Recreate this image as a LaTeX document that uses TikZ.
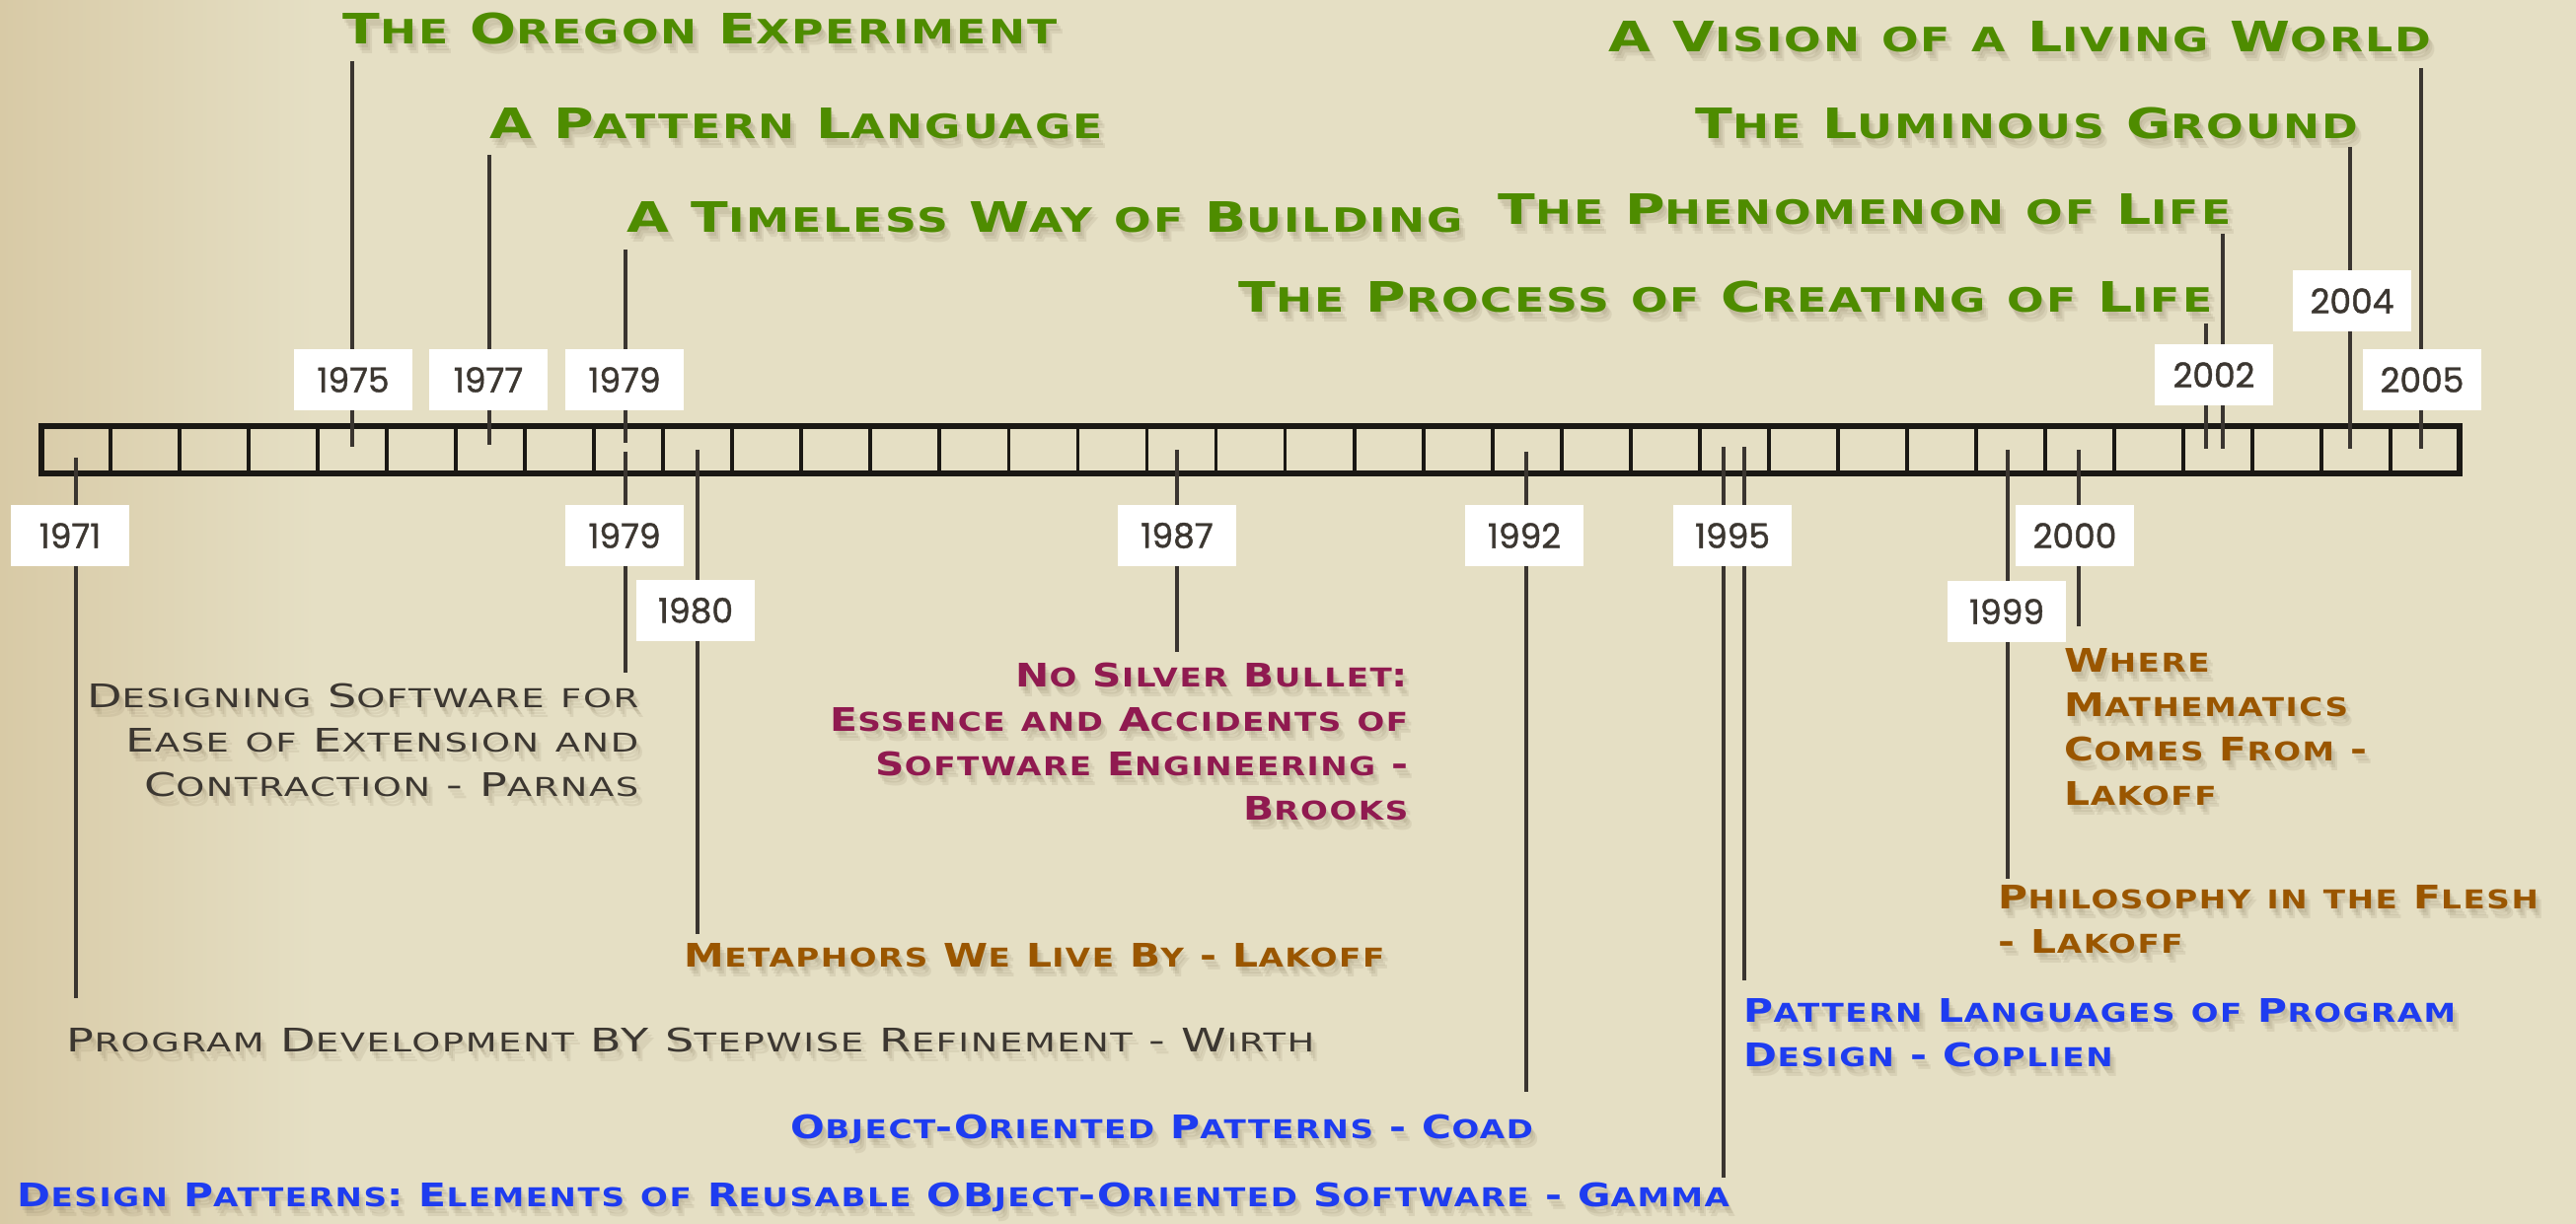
\documentclass[tikz,border=0pt]{standalone}
\usepackage{fontspec}
\newfontfamily\cpfont{DejaVu Sans}[FakeStretch=1.3,LetterSpace=6]
\newfontfamily\cpfontB{DejaVu Sans}[FakeStretch=1.24,LetterSpace=6]
\newfontfamily\cpfontR{DejaVu Sans}[FakeStretch=1.4,LetterSpace=6]
\newfontfamily\yearfont{Poppins}[FakeBold=1.2]
\definecolor{cgreen}{HTML}{4E8C00}
\definecolor{cblue}{HTML}{1E3CF0}
\definecolor{corange}{HTML}{9A5600}
\definecolor{ccrimson}{HTML}{901A50}
\definecolor{cdark}{HTML}{3C3731}
\definecolor{cline}{HTML}{3A3530}
\definecolor{cbar}{HTML}{1A1814}
\definecolor{bgmid}{HTML}{E5DFC4}
\definecolor{bgleft}{HTML}{D8CAA6}
\definecolor{shadowc}{HTML}{5E4C30}
\ExplSyntaxOn
\tl_new:N \l_my_ratio_tl
\tl_set:Nn \l_my_ratio_tl {0.8}
\seq_new:N \l_my_words_seq
\cs_new_protected:Npn \my_small:
  { \fontsize{\fp_eval:n {\l_my_ratio_tl * \use:c{f@size}}}{0pt}\selectfont }
\cs_new_protected:Npn \my_fsc_char:N #1
  {
    \int_compare:nNnTF {`#1} > {`Z}
      { { \my_small: \text_uppercase:n {#1} } }
      { #1 }
  }
\cs_new_protected:Npn \my_fsc_word:n #1
  { \tl_map_function:nN {#1} \my_fsc_char:N }
\NewDocumentCommand \fsc { m }
  {
    \seq_set_split:Nnn \l_my_words_seq {~} {#1}
    \seq_map_indexed_inline:Nn \l_my_words_seq
      { \int_compare:nNnT {##1} > {1} { \c_space_tl } \my_fsc_word:n {##2} }
  }
\ExplSyntaxOff
% text with a soft drop shadow: name, style, anchor, position, text
\newcommand\shnode[5]{%
  \node[#2, anchor=#3, text=shadowc, text opacity=0.09] (#1-s1) at ([shift={(2,4)}]#4) {#5};
  \node[#2, anchor=#3, text=shadowc, text opacity=0.09] (#1-s2) at ([shift={(4,7)}]#4) {#5};
  \node[#2, anchor=#3, text=shadowc, text opacity=0.09] (#1-s3) at ([shift={(6,10)}]#4) {#5};
  \node[#2, anchor=#3] (#1) at (#4) {#5};
}
\begin{document}
\begin{tikzpicture}[x=0.1mm,y=-0.1mm,
  title/.style={font={\cpfont\bfseries\fontsize{12.1}{14}\selectfont}, text=cgreen, inner sep=0pt},
  lowtext/.style={font={\cpfontR\fontsize{9.37}{12.8}\selectfont}, inner sep=0pt},
  lowbold/.style={font={\cpfontB\bfseries\fontsize{9.37}{12.8}\selectfont}, inner sep=0pt},
  yearbox/.style={fill=white, minimum width=12mm, minimum height=6.2mm, inner sep=0pt,
    font={\yearfont\fontsize{9.8}{11}\selectfont}, text=cdark},
  marker/.style={draw=cline, line width=1.3pt},
  barframe/.style={draw=cbar, line width=1.7pt},
  barcell/.style={draw=cbar, line width=1.1pt}]
\useasboundingbox (0,0) rectangle (2611,1241);
\fill[bgmid] (0,0) rectangle (2611,1241);
\shade[left color=bgleft, right color=bgmid] (0,0) rectangle (320,1241);

% timeline bar
\draw[barframe] (42,432) rectangle (2493,480);
\foreach \i in {1,...,34} \draw[barcell] ({42+70.03*\i},432) -- ({42+70.03*\i},480);

% marker lines
\foreach \n/\x/\a/\b in {1975/357/62/453, 1977/496/157/451, 1979u/634/253/449,
  2002a/2236/328/455, 2002b/2253/237/455, 2004/2382/149/455, 2005/2454/69/455,
  1971/77/464/1012, 1979l/634/458/682, 1980/707/456/947, 1987/1193/456/661,
  1992/1547/458/1107, 1995a/1747/453/1194, 1995b/1768/453/994, 1999/2035/456/891,
  2000/2107/456/635}
  {\coordinate (ma\n) at (\x,\a); \coordinate (mb\n) at (\x,\b); \draw[marker] (ma\n) -- (mb\n);}

% year boxes
\node[yearbox] (y1975) at (358,385) {1975};
\node[yearbox] (y1977) at (495,385) {1977};
\node[yearbox] (y1979u) at (633,385) {1979};
\node[yearbox] (y2002) at (2244,380) {2002};
\node[yearbox] (y2004) at (2384,305) {2004};
\node[yearbox] (y2005) at (2455,385) {2005};
\node[yearbox] (y1971) at (71,543) {1971};
\node[yearbox] (y1979l) at (633,543) {1979};
\node[yearbox] (y1980) at (705,619) {1980};
\node[yearbox] (y1987) at (1193,543) {1987};
\node[yearbox] (y1992) at (1545,543) {1992};
\node[yearbox] (y1995) at (1756,543) {1995};
\node[yearbox] (y1999) at (2034,620) {1999};
\node[yearbox] (y2000) at (2103,543) {2000};

% titles
\shnode{tOregon}{title}{base west}{347,45}{\fsc{The Oregon Experiment}}
\shnode{tPattern}{title}{base west}{496,141}{\fsc{A Pattern Language}}
\shnode{tTimeless}{title}{base west}{635,236}{\fsc{A Timeless Way of Building}}
\shnode{tProcess}{title}{base east}{2243,317}{\fsc{The Process of Creating of Life}}
\shnode{tPhenom}{title}{base east}{2262,228}{\fsc{The Phenomenon of Life}}
\shnode{tLuminous}{title}{base east}{2391,141}{\fsc{The Luminous Ground}}
\shnode{tVision}{title}{base east}{2465,53}{\fsc{A Vision of a Living World}}

% lower texts
\shnode{tParnas}{lowtext, text=cdark, align=right}{north east}{648,692}{\fsc{Designing Software for}\\\fsc{Ease of Extension and}\\\fsc{Contraction - Parnas}}
\shnode{tBrooks}{lowbold, text=ccrimson, align=right}{north east}{1428,671}{\fsc{No Silver Bullet:}\\\fsc{Essence and Accidents of}\\\fsc{Software Engineering -}\\\fsc{Brooks}}
\shnode{tMetaphors}{lowbold, text=corange}{base west}{693,980}{\fsc{Metaphors We Live By - Lakoff}}
\shnode{tWirth}{lowtext, text=cdark}{base west}{67,1066}{\fsc{Program Development BY Stepwise Refinement - Wirth}}
\shnode{tCoad}{lowbold, text=cblue}{base west}{801,1154}{\fsc{Object-Oriented Patterns - Coad}}
\shnode{tGamma}{lowbold, text=cblue}{base west}{17,1223}{\fsc{Design Patterns: Elements of Reusable OBject-Oriented Software - Gamma}}
\shnode{tCoplien}{lowbold, text=cblue, align=left}{north west}{1767,1012}{\fsc{Pattern Languages of Program}\\\fsc{Design - Coplien}}
\shnode{tPhilosophy}{lowbold, text=corange, align=left}{north west}{2025,897}{\fsc{Philosophy in the Flesh}\\\fsc{- Lakoff}}
\shnode{tWhere}{lowbold, text=corange, align=left}{north west}{2092,657}{\fsc{Where}\\\fsc{Mathematics}\\\fsc{Comes From -}\\\fsc{Lakoff}}
\end{tikzpicture}
\end{document}
